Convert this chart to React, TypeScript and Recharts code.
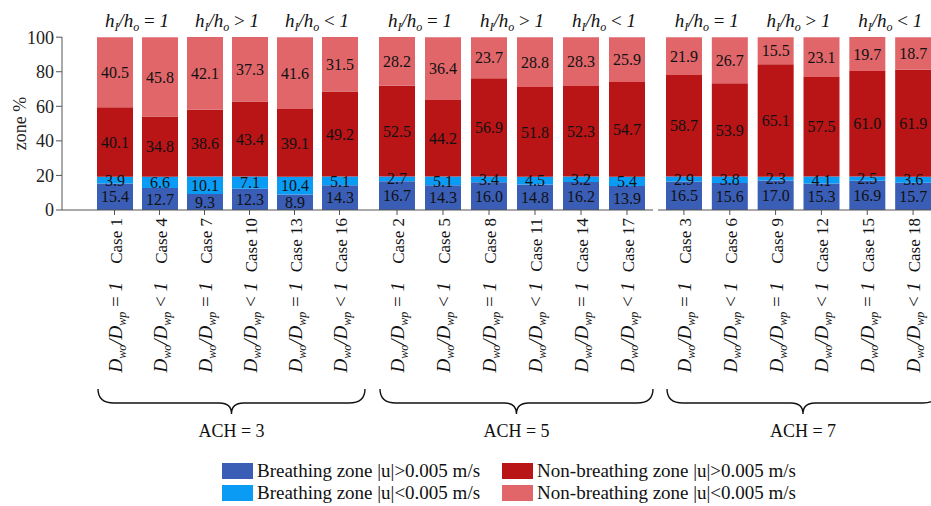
import { BarChart, Bar, XAxis, YAxis, LabelList } from 'recharts'

// cases per ACH panel (bottom category labels)
const casesAch3 = ['Case 1', 'Case 4', 'Case 7', 'Case 10', 'Case 13', 'Case 16']
const casesAch5 = ['Case 2', 'Case 5', 'Case 8', 'Case 11', 'Case 14', 'Case 17']
const casesAch7 = ['Case 3', 'Case 6', 'Case 9', 'Case 12', 'Case 15', 'Case 18']
const dRatio = ['=', '<', '=', '<', '=', '<']
const hRatio = ['=', '>', '<']
const achLabels = ['ACH = 3', 'ACH = 5', 'ACH = 7']

// ACH = 3
const breathingHigh3 = [15.4, 12.7, 9.3, 12.3, 8.9, 14.3]
const breathingLow3 = [3.9, 6.6, 10.1, 7.1, 10.4, 5.1]
const nonBreathingHigh3 = [40.1, 34.8, 38.6, 43.4, 39.1, 49.2]
const nonBreathingLow3 = [40.5, 45.8, 42.1, 37.3, 41.6, 31.5]

// ACH = 5
const breathingHigh5 = [16.7, 14.3, 16.0, 14.8, 16.2, 13.9]
const breathingLow5 = [2.7, 5.1, 3.4, 4.5, 3.2, 5.4]
const nonBreathingHigh5 = [52.5, 44.2, 56.9, 51.8, 52.3, 54.7]
const nonBreathingLow5 = [28.2, 36.4, 23.7, 28.8, 28.3, 25.9]

// ACH = 7
const breathingHigh7 = [16.5, 15.6, 17.0, 15.3, 16.9, 15.7]
const breathingLow7 = [2.9, 3.8, 2.3, 4.1, 2.5, 3.6]
const nonBreathingHigh7 = [58.7, 53.9, 65.1, 57.5, 61.0, 61.9]
const nonBreathingLow7 = [21.9, 26.7, 15.5, 23.1, 19.7, 18.7]

const yTicks = [0, 20, 40, 60, 80, 100]

const seriesKeys = ['bH', 'bL', 'nbH', 'nbL']
const seriesNames = [
  'Breathing zone |u|>0.005 m/s',
  'Breathing zone |u|<0.005 m/s',
  'Non-breathing zone |u|>0.005 m/s',
  'Non-breathing zone |u|<0.005 m/s',
]
const seriesColors = ['#3a5db5', '#0a9bf5', '#b91416', '#e0666a']

const serif = '"Liberation Serif", "DejaVu Serif", serif'

function buildRows(cases: string[], bH: number[], bL: number[], nbH: number[], nbL: number[]) {
  return cases.map((c, i) => ({ case: c, ratio: dRatio[i], bH: bH[i], bL: bL[i], nbH: nbH[i], nbL: nbL[i] }))
}

const panels = [
  buildRows(casesAch3, breathingHigh3, breathingLow3, nonBreathingHigh3, nonBreathingLow3),
  buildRows(casesAch5, breathingHigh5, breathingLow5, nonBreathingHigh5, nonBreathingLow5),
  buildRows(casesAch7, breathingHigh7, breathingLow7, nonBreathingHigh7, nonBreathingLow7),
]

function HeaderTick(props: any) {
  const { x, index, payload } = props
  if (index % 2 !== 0) return null
  const half = payload?.offset ?? 23
  return (
    <text x={x + half} y={27} textAnchor="middle" fontSize={19} fill="#111">
      <tspan fontStyle="italic">h</tspan>
      <tspan fontStyle="italic" fontSize={12} dy={4}>I</tspan>
      <tspan fontStyle="italic" dy={-4}>/h</tspan>
      <tspan fontStyle="italic" fontSize={12} dy={4}>o</tspan>
      <tspan dy={-4}>{` ${hRatio[index / 2]} `}</tspan>
      <tspan fontStyle="italic">1</tspan>
    </text>
  )
}

function CaseTick(props: any) {
  const { x, y, payload, index, rows, ach } = props
  const half = payload?.offset ?? 23
  const row = rows[index]
  let brace = null
  if (index === 0) {
    const x0 = x - half + 6
    const x1 = x - half + 2 * half * rows.length + 3
    const cx = (x0 + x1) / 2
    const t = y + 172
    const m = y + 186
    const b = y + 197
    brace = (
      <g>
        <path
          d={`M${x0},${t} Q${x0},${m} ${x0 + 16},${m} L${cx - 12},${m} Q${cx},${m} ${cx},${b} Q${cx},${m} ${cx + 12},${m} L${x1 - 16},${m} Q${x1},${m} ${x1},${t}`}
          fill="none"
          stroke="#111"
          strokeWidth={1.4}
        />
        <text x={cx} y={y + 220} textAnchor="middle" fontSize={18} fill="#111">
          {ach}
        </text>
      </g>
    )
  }
  return (
    <g>
      <text transform={`translate(${x + 7},${y + 1}) rotate(-90)`} textAnchor="end" fontSize={17} fill="#111">
        {payload.value}
      </text>
      <text transform={`translate(${x + 7},${y + 65}) rotate(-90)`} textAnchor="end" fontSize={19} fill="#111">
        <tspan fontStyle="italic">D</tspan>
        <tspan fontStyle="italic" fontSize={12} dy={4}>wo</tspan>
        <tspan fontStyle="italic" dy={-4}>/D</tspan>
        <tspan fontStyle="italic" fontSize={12} dy={4}>wp</tspan>
        <tspan dy={-4}>{` ${row.ratio} `}</tspan>
        <tspan fontStyle="italic">1</tspan>
      </text>
      {brace}
    </g>
  )
}

const panelLayout = [
  { left: 0, width: 372, padLeft: 30, padRight: 0, showY: true },
  { left: 362, width: 301, padLeft: 12, padRight: 3, showY: false },
  { left: 658, width: 288, padLeft: 3, padRight: 0, showY: false },
]

function Panel({ idx }: { idx: number }) {
  const rows = panels[idx]
  const lay = panelLayout[idx]
  return (
    <div style={{ position: 'absolute', left: lay.left, top: 0 }}>
      <BarChart width={lay.width} height={506} data={rows} margin={{ top: 0, right: 10, left: 0, bottom: 56 }} barSize={36}>
        <XAxis
          xAxisId="top"
          orientation="top"
          dataKey="case"
          height={37}
          interval={0}
          axisLine={false}
          tickLine={false}
          padding={{ left: lay.padLeft, right: lay.padRight }}
          tick={<HeaderTick />}
        />
        <XAxis
          xAxisId={0}
          dataKey="case"
          height={240}
          interval={0}
          tickSize={5}
          stroke="#555"
          padding={{ left: lay.padLeft, right: lay.padRight }}
          tick={<CaseTick rows={rows} ach={achLabels[idx]} />}
        />
        <YAxis
          hide={!lay.showY}
          width={62}
          domain={[0, 100]}
          ticks={yTicks}
          interval={0}
          stroke="#555"
          tickSize={6}
          tick={{ fill: '#222', fontSize: 18 }}
          label={{
            value: 'zone %',
            angle: -90,
            position: 'insideLeft',
            offset: 20,
            fill: '#222',
            fontSize: 18,
            style: { textAnchor: 'middle' },
          }}
        />
        {seriesKeys.map((k, i) => (
          <Bar key={k} dataKey={k} name={seriesNames[i]} stackId="a" fill={seriesColors[i]} isAnimationActive={false}>
            <LabelList
              dataKey={k}
              position="center"
              fill="#111"
              fontSize={16}
              formatter={(v: any) => Number(v).toFixed(1)}
            />
          </Bar>
        ))}
      </BarChart>
    </div>
  )
}

function LegendBox() {
  return (
    <div
      style={{
        position: 'absolute',
        left: 222,
        top: 460,
        display: 'grid',
        gridTemplateRows: '22px 22px',
        gridAutoFlow: 'column',
        columnGap: 22,
        fontFamily: serif,
        fontSize: 19,
        lineHeight: '22px',
        color: '#111',
      }}
    >
      {seriesNames.map((n, i) => (
        <div key={n} style={{ display: 'flex', alignItems: 'center', whiteSpace: 'nowrap' }}>
          <span style={{ display: 'inline-block', width: 31, height: 16, background: seriesColors[i], marginRight: 4 }} />
          {n}
        </div>
      ))}
    </div>
  )
}

export default function App() {
  return (
    <div style={{ position: 'relative', width: 931, height: 506, overflow: 'hidden', fontFamily: serif, background: '#fff' }}>
      <style>{`body{margin:0;overflow:hidden} svg text, svg tspan{font-family:${serif} !important}`}</style>
      {[0, 1, 2].map((i) => (
        <Panel key={i} idx={i} />
      ))}
      <LegendBox />
    </div>
  )
}
